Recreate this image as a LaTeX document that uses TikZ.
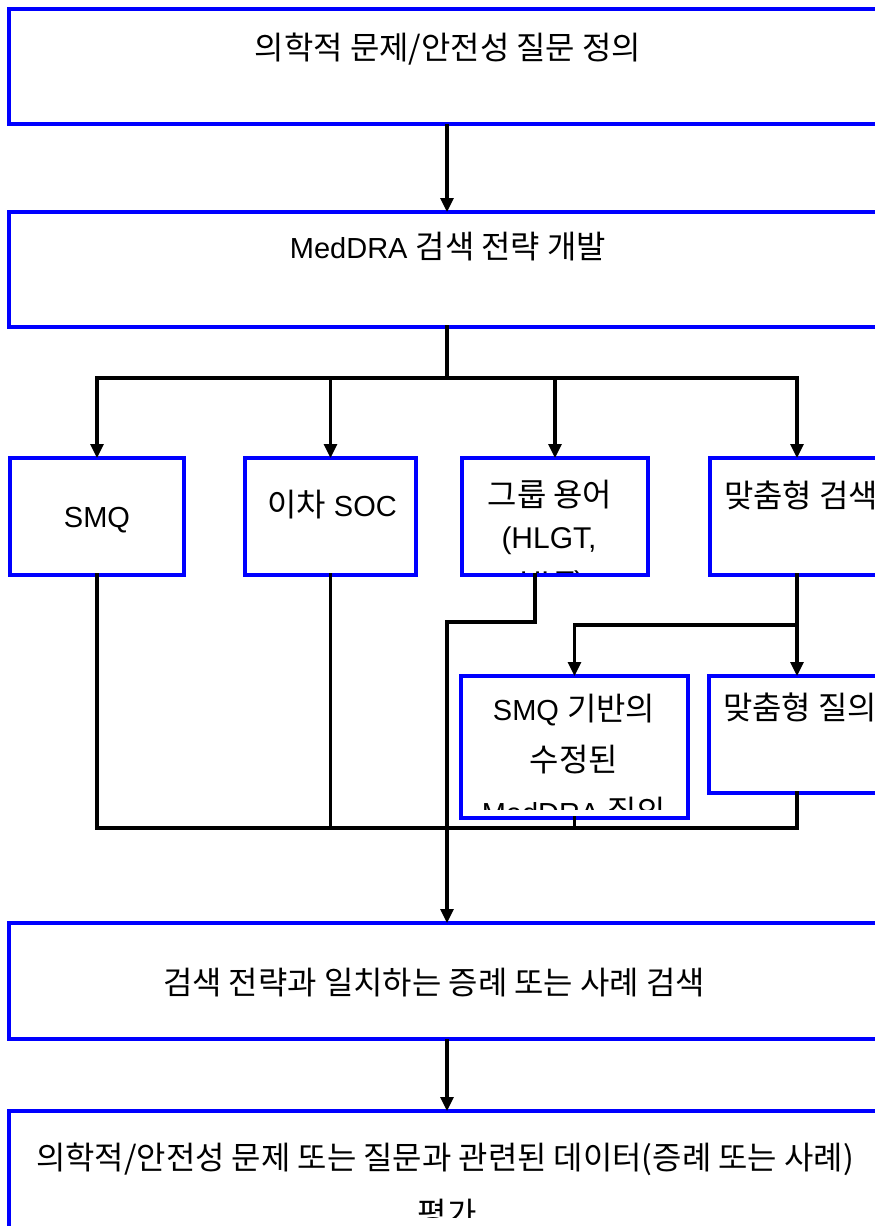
\documentclass[tikz,border=0pt]{standalone}
\usepackage{fontspec}
\setmainfont{Liberation Sans}
\newfontfamily\kr{Noto Sans CJK KR}[Scale=1.1]
\usetikzlibrary{arrows.meta}
\tikzset{
  box/.style={draw={rgb,255:red,0;green,0;blue,255}, line width=3.5pt, fill=white, inner sep=0pt, outer sep=0pt},
  txt/.style={inner sep=0pt, outer sep=0pt, text height=22.5pt, text depth=0pt, font=\fontsize{29}{35}\selectfont},
  conn/.style={line width=3.1pt, line cap=rect, line join=miter},
  arr/.style={conn, line cap=butt, -{Triangle[length=14pt,width=13pt]}},
}
\begin{document}
\begin{tikzpicture}[x=1pt,y=-1pt]
\useasboundingbox (0,0) rectangle (875,1226);
\clip (0,0) rectangle (875,1226);
% boxes
\node[box, minimum width=876pt, minimum height=115pt] (b1) at (447,66.5) {};
\node[box, minimum width=876pt, minimum height=115pt] (b2) at (447,269.5) {};
\node[box, minimum width=174pt, minimum height=117pt] (smq) at (97,516.5) {};
\node[box, minimum width=171pt, minimum height=117pt] (soc) at (330.5,516.5) {};
\node[box, minimum width=186pt, minimum height=117pt] (grp) at (555,516.5) {};
\node[box, minimum width=174pt, minimum height=117pt] (cus) at (797,516.5) {};
\node[box, minimum width=227pt, minimum height=142pt] (smqb) at (574.5,747) {};
\node[box, minimum width=176pt, minimum height=117pt] (cq) at (797,734.5) {};
\node[box, minimum width=876pt, minimum height=116pt] (b4) at (447,981) {};
\node[box, minimum width=876pt, minimum height=209pt] (b5) at (447,1215.5) {};
% junction coordinates
\coordinate (top) at (447,378);
\coordinate (gout) at (535,575);
\coordinate (gturn) at (447,622);
\coordinate (csplit) at (797,625);
\coordinate (bot) at (447,828);
% connectors
\draw[arr] (b1.south) -- (b2.north);
\draw[conn] (b2.south) -- (top);
\draw[conn] (smq.north |- top) -- (cus.north |- top);
\draw[arr] (smq.north |- top) -- (smq.north);
\draw[arr] (soc.north |- top) -- (soc.north);
\draw[arr] (grp.north |- top) -- (grp.north);
\draw[arr] (cus.north |- top) -- (cus.north);
\draw[conn] (cus.south) -- (csplit);
\draw[conn] (csplit) -- (smqb.north |- csplit);
\draw[arr] (smqb.north |- csplit) -- (smqb.north);
\draw[arr] (csplit) -- (cq.north);
\draw[conn] (gout) |- (gturn);
\draw[arr] (gturn) -- (b4.north);
\draw[conn] (smq.south) |- (cq.south |- bot);
\draw[conn] (cq.south) -- (cq.south |- bot);
\draw[conn] (soc.south) -- (soc.south |- bot);
\draw[conn] (smqb.south) -- (smqb.south |- bot);
\draw[arr] (b4.south) -- (b5.north);
% texts
\node[txt] (t1) at (448,48) {\kr 의학적 문제/안전성 질문 정의};
\node[txt] (t2) at (448,247) {MedDRA {\kr 검색 전략 개발}};
\node[txt] (t3) at (97,516) {SMQ};
\node[txt] (t4) at (332,505) {{\kr 이차} SOC};
\begin{scope}
\clip (464,460) rectangle (646,572);
\node[txt] (t5a) at (550,495) {\kr 그룹 용어};
\node[txt, font=\fontsize{30}{36}\selectfont] (t5b) at (549,537) {(HLGT,};
\node[txt, font=\fontsize{30}{36}\selectfont] (t5c) at (552,581) {HLT)};
\end{scope}
\node[txt, anchor=west] (t6) at (724,496) {\kr 맞춤형 검색};
\begin{scope}
\clip (463,678) rectangle (686,809);
\node[txt] (t7a) at (574,709) {SMQ {\kr 기반의}};
\node[txt] (t7b) at (574,760) {\kr 수정된};
\node[txt] (t7c) at (574,812) {MedDRA {\kr 질의}};
\end{scope}
\node[txt, anchor=west] (t8) at (723,708) {\kr 맞춤형 질의};
\node[txt] (t9) at (434,983) {\kr 검색 전략과 일치하는 증례 또는 사례 검색};
\node[txt] (t10) at (445,1158) {\kr 의학적/안전성 문제 또는 질문과 관련된 데이터(증례 또는 사례)};
\begin{scope}
\clip (12,1113) rectangle (873,1217);
\node[txt] (t11) at (447,1214) {\kr 평가};
\end{scope}
\end{tikzpicture}
\end{document}
